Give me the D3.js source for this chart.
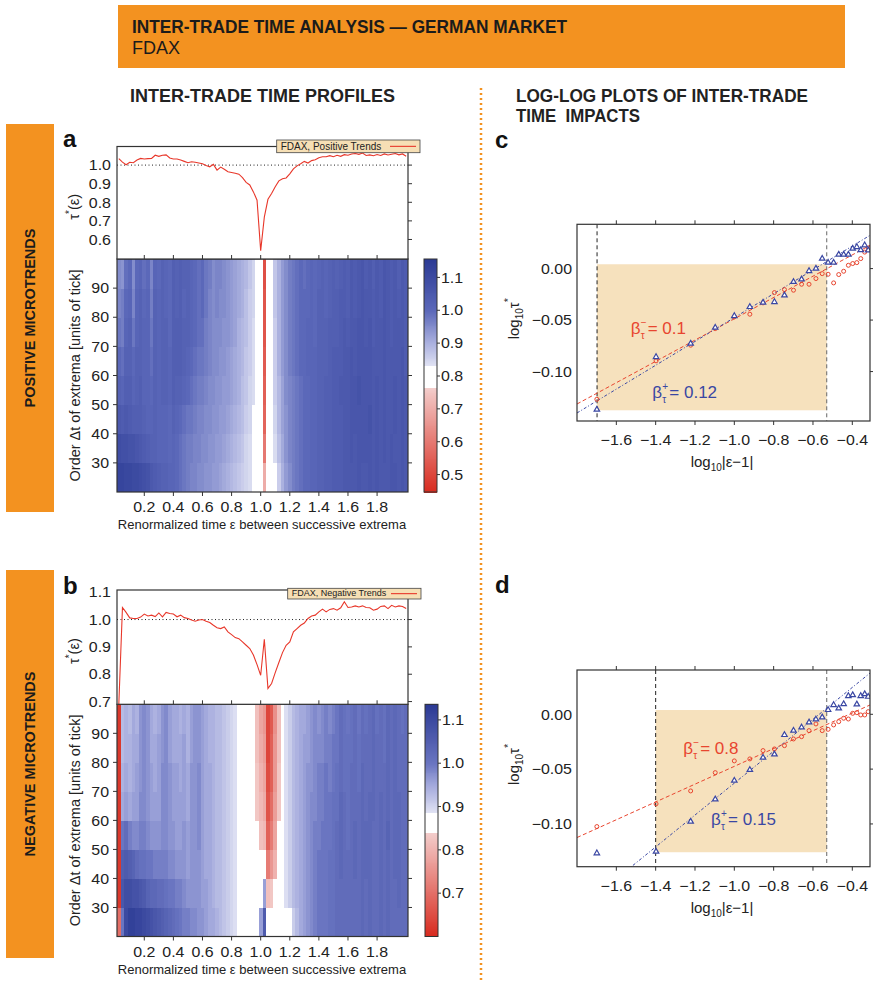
<!DOCTYPE html>
<html>
<head>
<meta charset="utf-8">
<script src="https://cdnjs.cloudflare.com/ajax/libs/d3/7.8.5/d3.min.js"></script>
<style>
body{margin:0;background:#fff}
svg{display:block}
text{font-family:"Liberation Sans",Arial,Helvetica,sans-serif}
</style>
</head>
<body>
<div id="fig"></div>
<script>
var W = 873, H = 982,
orange = "#f39220",
ink = "#222222",
narrow = '"Liberation Sans Narrow","Arial Narrow","Liberation Sans",sans-serif';

// renormalized time grid (bin centres) and order bands
var epsGrid = d3.range(1, 81).map(function(k){ return +(k * 0.025).toFixed(4); });
var dtEdges = [20, 30, 40, 50, 60, 70, 80, 90, 100];

// tau*(eps) profiles, one value per eps bin
var tauPos = [1.035,1.016,1.002,1.015,1.013,1.027,1.036,1.033,1.035,1.036,
1.053,1.047,1.053,1.055,1.038,1.033,1.033,1.027,1.020,1.013,
1.018,1.015,1.011,1.007,0.998,0.991,1.004,0.973,0.989,0.978,
0.964,0.960,0.956,0.951,0.933,0.907,0.893,0.856,0.811,0.540,
0.720,0.816,0.847,0.884,0.915,0.927,0.931,0.953,0.980,0.996,
1.007,1.020,1.011,1.024,1.029,1.040,1.045,1.045,1.051,1.045,
1.053,1.047,1.056,1.053,1.060,1.062,1.058,1.065,1.052,1.055,
1.050,1.057,1.052,1.060,1.054,1.058,1.062,1.055,1.060,1.048];

var tauNeg = [0.690,1.044,1.026,1.006,1.004,1.004,1.009,1.020,1.013,1.016,
1.011,1.024,1.010,1.026,1.022,1.020,1.010,1.016,1.007,1.004,
0.998,0.994,0.998,1.000,0.994,0.989,0.979,0.970,0.967,0.973,
0.955,0.945,0.934,0.930,0.918,0.906,0.894,0.870,0.835,0.796,
0.928,0.748,0.766,0.806,0.843,0.879,0.906,0.918,0.955,0.967,
0.979,0.987,1.004,1.013,1.016,1.028,1.038,1.028,1.037,1.040,
1.034,1.043,1.065,1.044,1.046,1.050,1.046,1.050,1.044,1.043,
1.034,1.038,1.048,1.050,1.040,1.052,1.046,1.050,1.048,1.040];

// heat maps: one row per order band (20-30 first, 90-100 last), 80 eps bins each
var heatPos = [
[1.12,1.12,1.11,1.11, 1.10,1.10,1.09,1.08, 1.07,1.05,1.04,1.03, 1.02,1.02,1.01,1.01, 1.00,.99,.98,.97, .96,.96,.95,.95, .94,.94,.93,.93, .92,.91,.90,.89, .88,.87,.86,.85, .84,.83,.81,.80,
 .70,.80,.81,.83, .86,.90,.93,.95, .97,.98,.99,1.00, 1.00,1.01,1.01,1.02, 1.02,1.03,1.03,1.04, 1.04,1.04,1.05,1.05, 1.05,1.05,1.06,1.05, 1.05,1.06,1.05,1.06, 1.05,1.05,1.05,1.06, 1.06,1.05,1.06,1.05],
[1.09,1.08,1.08,1.07, 1.07,1.06,1.05,1.04, 1.03,1.02,1.02,1.01, 1.01,1.01,1.00,1.01, 1.00,.99,.98,.97, .97,.96,.96,.95, .95,.94,.94,.93, .93,.92,.91,.90, .89,.88,.87,.85, .84,.83,.81,.80,
 .60,.80,.82,.84, .88,.91,.94,.96, .97,.98,.99,1.00, 1.00,1.01,1.01,1.02, 1.02,1.03,1.03,1.04, 1.04,1.04,1.05,1.05, 1.06,1.05,1.06,1.06, 1.06,1.06,1.05,1.06, 1.05,1.06,1.05,1.06, 1.05,1.05,1.06,1.05],
[1.05,1.04,1.05,1.04, 1.03,1.03,1.03,1.02, 1.01,1.01,1.02,1.01, 1.01,1.01,1.00,1.02, 1.01,1.00,.99,.98, .98,.97,.96,.96, .95,.95,.94,.94, .93,.93,.92,.91, .90,.89,.88,.86, .85,.83,.81,.80,
 .56,.80,.82,.85, .89,.92,.94,.96, .97,.98,.99,1.00, 1.00,1.01,1.01,1.02, 1.02,1.03,1.03,1.04, 1.04,1.04,1.05,1.05, 1.06,1.06,1.06,1.06, 1.06,1.07,1.05,1.06, 1.05,1.06,1.05,1.05, 1.06,1.05,1.06,1.05],
[1.02,1.01,1.03,1.03, 1.01,1.02,1.03,1.01, 1.01,1.00,1.02,1.01, 1.02,1.02,1.01,1.03, 1.02,1.02,1.01,1.00, .99,.98,.97,.97, .96,.95,.95,.94, .94,.93,.93,.92, .91,.90,.88,.87, .85,.84,.82,.80,
 .55,.80,.83,.86, .89,.92,.95,.96, .97,.98,.99,1.00, 1.00,1.01,1.01,1.02, 1.02,1.03,1.03,1.04, 1.04,1.05,1.05,1.05, 1.06,1.06,1.07,1.06, 1.06,1.06,1.05,1.06, 1.05,1.06,1.05,1.05, 1.06,1.05,1.06,1.05],
[1.00,.99,1.02,1.02, 1.00,1.02,1.02,1.01, 1.01,.99,1.02,1.01, 1.02,1.02,1.01,1.03, 1.03,1.03,1.02,1.01, 1.00,.99,.98,.98, .97,.96,.95,.95, .94,.94,.93,.92, .91,.90,.89,.87, .86,.84,.82,.80,
 .54,.80,.83,.86, .90,.93,.95,.97, .98,.99,1.00,1.00, 1.01,1.01,1.01,1.02, 1.02,1.02,1.03,1.04, 1.04,1.04,1.05,1.05, 1.06,1.05,1.06,1.06, 1.06,1.06,1.05,1.05, 1.05,1.06,1.05,1.05, 1.05,1.05,1.06,1.04],
[.98,.97,1.01,1.02, .98,1.01,1.02,1.01, 1.01,.98,1.02,1.01, 1.02,1.02,1.00,1.03, 1.03,1.03,1.02,1.02, 1.01,1.00,.99,.99, .97,.96,.95,.95, .95,.94,.94,.93, .92,.90,.89,.88, .86,.84,.82,.80,
 .53,.80,.83,.86, .90,.93,.95,.97, .98,.99,1.00,1.00, 1.01,1.01,1.00,1.02, 1.02,1.02,1.03,1.03, 1.03,1.04,1.05,1.04, 1.05,1.05,1.06,1.06, 1.05,1.06,1.04,1.05, 1.05,1.06,1.05,1.04, 1.05,1.05,1.05,1.04],
[.96,.97,1.00,1.01, .96,1.01,1.02,1.00, 1.01,.97,1.02,1.01, 1.02,1.01,1.00,1.03, 1.02,1.03,1.01,1.02, 1.01,1.00,.99,1.00, .98,.96,.95,.96, .95,.95,.94,.93, .92,.91,.90,.88, .86,.85,.82,.80,
 .53,.80,.83,.87, .90,.93,.95,.97, .98,.99,1.00,1.00, 1.00,1.01,1.00,1.02, 1.02,1.01,1.02,1.03, 1.03,1.04,1.04,1.03, 1.05,1.04,1.05,1.06, 1.05,1.05,1.04,1.05, 1.04,1.06,1.05,1.04, 1.05,1.04,1.05,1.04],
[.95,.94,.99,1.00, .95,1.00,1.01,.99, 1.00,.96,1.01,1.00, 1.02,1.01,1.00,1.03, 1.02,1.03,1.02,1.02, 1.01,1.00,.99,1.00, .98,.97,.95,.96, .96,.95,.94,.93, .92,.91,.90,.89, .87,.85,.83,.81,
 .52,.80,.83,.87, .90,.93,.95,.97, .98,.99,1.00,.99, 1.00,1.01,1.00,1.01, 1.02,1.01,1.02,1.03, 1.02,1.03,1.04,1.03, 1.05,1.04,1.05,1.06, 1.04,1.05,1.03,1.05, 1.04,1.06,1.05,1.04, 1.05,1.03,1.05,1.04]
];

var heatNeg = [
[.70,1.00,1.10,1.12, 1.12,1.11,1.11,1.10, 1.09,1.08,1.07,1.06, 1.05,1.04,1.03,1.02, 1.01,1.00,.99,.99, .98,.98,.97,.97, .96,.95,.95,.94, .93,.92,.91,.90, .89,.88,.88,.87, .87,.87,.87,.96,
 1.06,.87,.88,.88, .88,.87,.88,.88, .91,.93,.95,.96, .97,.98,.99,1.00, 1.00,1.00,1.01,1.01, 1.02,1.02,1.02,1.02, 1.02,1.02,1.02,1.03, 1.02,1.03,1.02,1.02, 1.03,1.02,1.03,1.02, 1.02,1.02,1.02,1.02],
[.62,1.07,1.09,1.09, 1.08,1.08,1.07,1.06, 1.04,1.03,1.03,1.02, 1.02,1.01,1.00,1.00, .99,.99,.98,.97, .97,.97,.97,.96, .96,.95,.94,.93, .93,.92,.91,.90, .89,.88,.88,.87, .87,.87,.87,.87,
 .96,.82,.83,.85, .87,.88,.89,.91, .93,.94,.95,.96, .97,.98,.99,1.00, 1.00,1.00,1.01,1.01, 1.02,1.02,1.02,1.02, 1.02,1.02,1.02,1.03, 1.02,1.03,1.02,1.02, 1.03,1.02,1.03,1.02, 1.02,1.03,1.02,1.02],
[.62,1.05,1.06,1.05, 1.04,1.02,1.01,1.01, 1.00,1.00,.99,.99, .99,.99,.98,.98, .97,.97,.97,.96, .97,.97,.97,.96, .95,.95,.94,.93, .93,.92,.91,.90, .89,.88,.88,.87, .87,.87,.86,.84,
 .85,.72,.76,.80, .85,.87,.89,.91, .93,.94,.95,.96, .97,.98,.99,1.00, 1.00,1.00,1.01,1.01, 1.02,1.03,1.02,1.02, 1.02,1.03,1.02,1.03, 1.03,1.03,1.02,1.02, 1.03,1.02,1.03,1.02, 1.03,1.03,1.02,1.02],
[.62,1.00,1.02,.99, .98,.98,.99,.99, .98,.97,.97,.97, .98,.98,.97,.97, .96,.96,.97,.96, .97,.97,.98,.96, .95,.95,.94,.93, .93,.92,.91,.90, .89,.88,.88,.87, .87,.86,.84,.82,
 .81,.68,.72,.78, .84,.87,.89,.91, .93,.94,.95,.96, .97,.98,.99,.99, 1.00,1.00,1.00,1.01, 1.02,1.03,1.02,1.01, 1.02,1.03,1.02,1.03, 1.03,1.03,1.02,1.02, 1.03,1.02,1.04,1.02, 1.03,1.03,1.02,1.02],
[.62,.95,.96,.95, .96,.96,.98,.98, .97,.96,.96,.96, .98,.98,.97,.96, .96,.96,.96,.95, .97,.97,.98,.96, .95,.95,.94,.93, .93,.92,.91,.90, .89,.88,.88,.87, .87,.86,.83,.81,
 .79,.66,.70,.77, .83,.87,.89,.91, .93,.94,.95,.96, .97,.98,.98,.99, .99,1.00,1.00,1.01, 1.01,1.03,1.02,1.01, 1.02,1.02,1.02,1.03, 1.02,1.03,1.03,1.02, 1.03,1.02,1.03,1.02, 1.03,1.03,1.02,1.02],
[.62,.94,.95,.94, .95,.96,.97,.98, .97,.96,.95,.96, .98,.98,.97,.96, .96,.95,.96,.95, .97,.97,.98,.96, .95,.95,.94,.93, .93,.92,.91,.90, .89,.88,.88,.87, .87,.86,.83,.80,
 .78,.65,.68,.76, .83,.87,.89,.91, .93,.94,.95,.96, .97,.97,.98,.99, .99,1.00,.99,1.00, 1.01,1.02,1.01,1.01, 1.02,1.02,1.01,1.03, 1.02,1.02,1.03,1.02, 1.02,1.02,1.03,1.02, 1.03,1.02,1.02,1.02],
[.62,.93,.94,.94, .95,.95,.97,.98, .97,.95,.95,.96, .97,.98,.96,.95, .95,.95,.96,.94, .96,.97,.97,.96, .95,.94,.94,.93, .93,.92,.91,.90, .89,.88,.88,.87, .87,.86,.82,.79,
 .77,.64,.68,.76, .82,.87,.89,.91, .93,.94,.95,.96, .96,.97,.98,.98, .98,.99,.99,1.00, 1.00,1.02,1.01,1.01, 1.01,1.02,1.01,1.02, 1.02,1.02,1.03,1.02, 1.02,1.01,1.03,1.02, 1.03,1.02,1.02,1.02],
[.62,.93,.94,.93, .95,.94,.97,.98, .97,.95,.94,.95, .97,.98,.96,.95, .95,.94,.95,.94, .96,.97,.97,.96, .95,.94,.94,.93, .93,.92,.91,.90, .89,.88,.88,.87, .87,.86,.82,.78,
 .76,.64,.67,.75, .82,.87,.89,.91, .93,.94,.95,.95, .96,.97,.98,.97, .98,.99,.98,.99, 1.00,1.02,1.01,1.00, 1.01,1.02,1.00,1.02, 1.01,1.02,1.03,1.01, 1.02,1.01,1.03,1.02, 1.03,1.02,1.01,1.02]
];

// log-log panels: x = log10|eps-1| for |eps-1| = 0.02 ... 0.48
var logAbsEps = [-1.699,-1.398,-1.222,-1.097,-1.000,-0.921,-0.854,-0.796,-0.745,-0.699,
-0.658,-0.620,-0.585,-0.553,-0.523,-0.495,-0.469,-0.444,-0.420,-0.398,
-0.377,-0.357,-0.337,-0.319];
var cRed = [-0.1269,-0.0896,-0.0744,-0.0583,-0.0469,-0.0443,-0.0333,-0.0233,-0.0204,-0.0210,
-0.0152,-0.0152,-0.0097,-0.0049,-0.0055,-0.0139,-0.0058,-0.0026,0.0032,0.0049,
0.0058,0.0097,0.0160,0.0200];
var cBlue = [-0.1369,-0.0858,-0.0728,-0.0573,-0.0460,-0.0372,-0.0330,-0.0324,-0.0259,-0.0129,
-0.0104,-0.0023,0.0000,0.0097,0.0058,0.0058,0.0136,0.0136,0.0136,0.0194,
0.0210,0.0180,0.0227,0.0178];
var dRed = [-0.1024,-0.0817,-0.0699,-0.0532,-0.0425,-0.0407,-0.0331,-0.0316,-0.0286,-0.0225,
-0.0204,-0.0149,-0.0088,-0.0149,-0.0137,-0.0097,-0.0067,-0.0036,-0.0043,0.0009,
0.0015,-0.0006,-0.0006,0.0024];
var dBlue = [-0.1267,-0.1252,-0.0978,-0.0775,-0.0605,-0.0507,-0.0395,-0.0365,-0.0188,-0.0149,
-0.0119,-0.0073,-0.0046,-0.0027,0.0040,0.0085,0.0055,0.0094,0.0167,0.0176,
0.0091,0.0167,0.0185,0.0161];
// fitted power laws (end points)
var cRedFit = [[-1.8,-0.1315],[-0.31,0.0226]];
var cBlueFit = [[-1.8,-0.1402],[-0.31,0.0323]];
var dRedFit = [[-1.8,-0.1124],[-0.31,0.0085]];
var dBlueFit = [[-1.8,-0.1792],[-0.31,0.0376]];
var logTicksX = [-1.6,-1.4,-1.2,-1.0,-0.8,-0.6,-0.4];
var logTicksY = [0,-0.05,-0.10];

var svg = d3.select("#fig").append("svg").attr("width", W).attr("height", H);
svg.append("rect").attr("width", W).attr("height", H).attr("fill", "#fff");
var defs = svg.append("defs");

function txt(parent, x, y, s, o){
	o = o || {};
	var g = parent.append("g")
		.attr("transform", "translate(" + x + "," + y + ")" + (o.rot ? " rotate(" + o.rot + ")" : "") + " scale(" + (o.sx || 1) + ",1)");
	var t = g.append("text")
		.attr("text-anchor", o.anchor || "start")
		.attr("font-size", o.size || 14)
		.attr("font-weight", o.weight || "normal")
		.attr("fill", o.fill || ink);
	if(o.dy) t.attr("dy", o.dy);
	if(o.family) t.attr("font-family", o.family);
	if(o.len) t.attr("textLength", o.len).attr("lengthAdjust", "spacingAndGlyphs");
	if(s !== null) t.text(s);
	return t;
}

// header
svg.append("rect").attr("x", 118).attr("y", 5).attr("width", 727).attr("height", 63).attr("fill", orange);
txt(svg, 132, 33, "INTER-TRADE TIME ANALYSIS \u2014 GERMAN MARKET", {size:18, weight:"bold", family:narrow, len:435, fill:"#1b1b1b"});
txt(svg, 132, 54, "FDAX", {size:18, family:narrow, fill:"#1b1b1b"});

txt(svg, 130, 102, "INTER-TRADE TIME PROFILES", {size:18, weight:"bold", family:narrow, len:265});
txt(svg, 516, 102, "LOG-LOG PLOTS OF INTER-TRADE", {size:18, weight:"bold", family:narrow, len:292});
txt(svg, 516, 122, "TIME\u00a0 IMPACTS", {size:18, weight:"bold", family:narrow, len:124});

svg.append("line").attr("x1", 481).attr("x2", 481).attr("y1", 88).attr("y2", 980)
	.attr("stroke", orange).attr("stroke-width", 2.5).attr("stroke-dasharray", "2,3");

// side bars
[[124, 512, "POSITIVE MICROTRENDS"], [570, 958, "NEGATIVE MICROTRENDS"]].forEach(function(b){
	svg.append("rect").attr("x", 6).attr("y", b[0]).attr("width", 48).attr("height", b[1] - b[0]).attr("fill", orange);
	txt(svg, 35, (b[0] + b[1]) / 2, b[2], {rot:-90, anchor:"middle", size:14.5, weight:"bold", fill:"#1b1b1b"});
});

// panel letters
[["a", 63, 147], ["b", 63, 594], ["c", 495, 148], ["d", 495, 593]].forEach(function(l){
	txt(svg, l[1], l[2], l[0], {size:24, weight:"bold", fill:"#111"});
});

var colorPos = d3.scaleLinear()
	.domain([0.447, 0.765, 0.766, 0.83, 0.831, 0.9, 1.0, 1.156])
	.range(["#d82a1e", "#f3cdcb", "#ffffff", "#ffffff", "#e0e2f3", "#abb1df", "#5b68b9", "#2b3a94"])
	.clamp(true);
var colorNeg = d3.scaleLinear()
	.domain([0.6, 0.839, 0.84, 0.885, 0.886, 0.95, 1.0, 1.136])
	.range(["#d82a1e", "#f3cdcb", "#ffffff", "#ffffff", "#e0e2f3", "#a3a9dc", "#6a75c1", "#2b3a94"])
	.clamp(true);

var tickSize = 14.5, tickSx = 1.1;

function drawProfile(p){
	var x = d3.scaleLinear().domain([0.0125, 2.0125]).range([117, 408]);
	var yl = d3.scaleLinear().domain(p.tauDomain).range([p.lineBottom, p.lineTop]);
	var yh = d3.scaleLinear().domain([20, 100]).range([p.heatBottom, p.lineBottom]);
	var g = svg.append("g");
	var cid = "clip" + p.id;
	defs.append("clipPath").attr("id", cid).append("rect")
		.attr("x", 117).attr("y", p.lineTop).attr("width", 291).attr("height", p.heatBottom - p.lineTop);

	// heat map
	var hm = g.append("g").attr("clip-path", "url(#" + cid + ")").attr("shape-rendering", "crispEdges");
	p.heat.forEach(function(row, i){
		hm.selectAll(null).data(row).join("rect")
			.attr("x", function(v, j){ return x(epsGrid[j] - 0.0125); })
			.attr("width", x(0.025) - x(0) + 0.6)
			.attr("y", yh(dtEdges[i + 1]))
			.attr("height", yh(dtEdges[i]) - yh(dtEdges[i + 1]) + 0.6)
			.attr("fill", function(v){ return p.color(v); });
	});
	g.append("rect").attr("x", 117).attr("y", p.lineBottom).attr("width", 291).attr("height", p.heatBottom - p.lineBottom)
		.attr("fill", "none").attr("stroke", "#333").attr("stroke-width", 1.2);

	// line plot
	g.append("rect").attr("x", 117).attr("y", p.lineTop).attr("width", 291).attr("height", p.lineBottom - p.lineTop).attr("fill", "#fff");
	g.append("line").attr("x1", 117).attr("x2", 408).attr("y1", yl(1)).attr("y2", yl(1))
		.attr("stroke", "#222").attr("stroke-width", 1).attr("stroke-dasharray", "1,2.5");
	var line = d3.line().x(function(d, i){ return x(epsGrid[i]); }).y(function(d){ return yl(d); });
	g.append("path").datum(p.tau).attr("clip-path", "url(#" + cid + ")")
		.attr("d", line).attr("fill", "none").attr("stroke", "#e8372a").attr("stroke-width", 1.1);
	g.append("rect").attr("x", 117).attr("y", p.lineTop).attr("width", 291).attr("height", p.lineBottom - p.lineTop)
		.attr("fill", "none").attr("stroke", "#333").attr("stroke-width", 1.2);

	var xt = [0.2, 0.4, 0.6, 0.8, 1.0, 1.2, 1.4, 1.6, 1.8];
	xt.forEach(function(t){
		g.append("line").attr("x1", x(t)).attr("x2", x(t)).attr("y1", p.lineBottom).attr("y2", p.lineBottom - 4).attr("stroke", "#333");
		g.append("line").attr("x1", x(t)).attr("x2", x(t)).attr("y1", p.heatBottom).attr("y2", p.heatBottom + 4).attr("stroke", "#333");
		txt(g, x(t), p.heatBottom + 20, d3.format(".1f")(t), {anchor:"middle", size:tickSize, sx:tickSx});
	});
	p.tauTicks.forEach(function(t){
		g.append("line").attr("x1", 408).attr("x2", 412).attr("y1", yl(t)).attr("y2", yl(t)).attr("stroke", "#333");
		txt(g, 111, yl(t), d3.format(".1f")(t), {anchor:"end", dy:"0.36em", size:tickSize, sx:tickSx});
	});
	[30, 40, 50, 60, 70, 80, 90].forEach(function(t){
		g.append("line").attr("x1", 113).attr("x2", 117).attr("y1", yh(t)).attr("y2", yh(t)).attr("stroke", "#333");
		g.append("line").attr("x1", 408).attr("x2", 412).attr("y1", yh(t)).attr("y2", yh(t)).attr("stroke", "#333");
		txt(g, 109, yh(t), String(t), {anchor:"end", dy:"0.36em", size:tickSize, sx:tickSx});
	});
	txt(g, 262, p.heatBottom + 37, "Renormalized time \u03b5 between successive extrema", {anchor:"middle", size:13});
	txt(g, 80, (p.lineBottom + p.heatBottom) / 2, "Order \u0394t of extrema [units of tick]", {anchor:"middle", rot:-90, size:14.5});

	var tl = txt(g, 79, (p.lineTop + p.lineBottom) / 2 + 4, null, {anchor:"middle", rot:-90, size:14.5});
	tl.append("tspan").text("\u03c4");
	tl.append("tspan").attr("dy", -6).attr("font-size", 10).text("*");
	tl.append("tspan").attr("dy", 6).text("(\u03b5)");

	// legend
	var lb = p.legBox;
	g.append("rect").attr("x", lb[0]).attr("y", lb[1]).attr("width", lb[2]).attr("height", lb[3])
		.attr("fill", "#f6dfb5").attr("stroke", "#444").attr("stroke-width", 0.8);
	txt(g, lb[0] + 4, lb[1] + lb[3] - 2.8, p.legend, {size:p.legSize, fill:"#222"});
	g.append("line").attr("x1", lb[0] + lb[2] - 30).attr("x2", lb[0] + lb[2] - 4)
		.attr("y1", lb[1] + lb[3] / 2).attr("y2", lb[1] + lb[3] / 2).attr("stroke", "#e8372a").attr("stroke-width", 1.1);

	// colour bar
	var yc = d3.scaleLinear().domain(p.cbDomain).range([p.heatBottom, p.lineBottom]);
	var steps = d3.range(0, 240);
	var dv = (p.cbDomain[1] - p.cbDomain[0]) / 240;
	g.append("g").attr("shape-rendering", "crispEdges").selectAll("rect").data(steps).join("rect")
		.attr("x", p.cbX).attr("width", 13)
		.attr("y", function(k){ return yc(p.cbDomain[0] + (k + 1) * dv); })
		.attr("height", function(k){ return yc(p.cbDomain[0] + k * dv) - yc(p.cbDomain[0] + (k + 1) * dv) + 0.5; })
		.attr("fill", function(k){ return p.color(p.cbDomain[0] + (k + 0.5) * dv); });
	g.append("rect").attr("x", p.cbX).attr("y", p.lineBottom).attr("width", 13).attr("height", p.heatBottom - p.lineBottom)
		.attr("fill", "none").attr("stroke", "#333").attr("stroke-width", 1);
	p.cbTicks.forEach(function(t){
		g.append("line").attr("x1", p.cbX + 13).attr("x2", p.cbX + 16).attr("y1", yc(t)).attr("y2", yc(t)).attr("stroke", "#333");
		txt(g, p.cbX + 17, yc(t), d3.format(".1f")(t), {dy:"0.36em", size:tickSize, sx:tickSx});
	});
}

drawProfile({id:"a", lineTop:146.5, lineBottom:259, heatBottom:492, tau:tauPos, tauDomain:[0.495, 1.10],
	tauTicks:[0.6, 0.7, 0.8, 0.9, 1.0], heat:heatPos, color:colorPos, cbDomain:[0.447, 1.156],
	cbTicks:[0.5, 0.6, 0.7, 0.8, 0.9, 1.0, 1.1], cbX:424, legend:"FDAX, Positive Trends",
	legBox:[276.7, 140, 143.3, 12.7], legSize:10});
drawProfile({id:"b", lineTop:590, lineBottom:704.3, heatBottom:936.5, tau:tauNeg, tauDomain:[0.69, 1.108],
	tauTicks:[0.7, 0.8, 0.9, 1.0, 1.1], heat:heatNeg, color:colorNeg, cbDomain:[0.6, 1.136],
	cbTicks:[0.7, 0.8, 0.9, 1.0, 1.1], cbX:425, legend:"FDAX, Negative Trends",
	legBox:[287.7, 588.3, 133.3, 10.7], legSize:9});

var redC = "#e8452f", blueC = "#3a47a3";

// beta label: main glyph, stacked super/subscript, value
function betaLabel(g, x, y, sign, val, col){
	txt(g, x, y, "\u03b2", {size:17, fill:col});
	txt(g, x + 10, y - 8, sign, {size:10, fill:col});
	txt(g, x + 10, y + 5, "\u03c4", {size:10, fill:col});
	txt(g, x + 17, y, "= " + val, {size:17, fill:col});
}

function drawLogLog(p){
	var x = d3.scaleLinear().domain([-1.8, -0.31]).range([577, 870]);
	var y = d3.scaleLinear().domain(p.yDomain).range([p.yBottom, p.yTop]);
	var g = svg.append("g");
	var cid = "clip" + p.id;
	defs.append("clipPath").attr("id", cid).append("rect")
		.attr("x", 577).attr("y", p.yTop).attr("width", 293).attr("height", p.yBottom - p.yTop);
	var pg = g.append("g").attr("clip-path", "url(#" + cid + ")");
	pg.append("rect").attr("x", x(p.shade[0])).attr("width", x(p.shade[1]) - x(p.shade[0]))
		.attr("y", y(p.shade[3])).attr("height", y(p.shade[2]) - y(p.shade[3])).attr("fill", "#f6e1bd");
	p.vlines.forEach(function(v, i){
		pg.append("line").attr("x1", x(v)).attr("x2", x(v)).attr("y1", p.yTop).attr("y2", p.yBottom)
			.attr("stroke", i ? "#666" : "#222").attr("stroke-width", 1).attr("stroke-dasharray", "4,3");
	});
	var ln = d3.line().x(function(d){ return x(d[0]); }).y(function(d){ return y(d[1]); });
	pg.append("path").datum(p.redFit).attr("d", ln).attr("fill", "none").attr("stroke", redC)
		.attr("stroke-width", 1).attr("stroke-dasharray", "4,2.5");
	pg.append("path").datum(p.blueFit).attr("d", ln).attr("fill", "none").attr("stroke", blueC)
		.attr("stroke-width", 1).attr("stroke-dasharray", "3,2,1,2");
	pg.selectAll(".rc").data(p.red).join("circle")
		.attr("cx", function(d, i){ return x(logAbsEps[i]); }).attr("cy", function(d){ return y(d); })
		.attr("r", 2).attr("fill", "none").attr("stroke", redC).attr("stroke-width", 1);
	var tri = d3.symbol().type(d3.symbolTriangle).size(13);
	pg.selectAll(".bt").data(p.blue).join("path")
		.attr("transform", function(d, i){ return "translate(" + x(logAbsEps[i]) + "," + y(d) + ")"; })
		.attr("d", tri).attr("fill", "#fff").attr("stroke", blueC).attr("stroke-width", 1.2);
	g.append("rect").attr("x", 577).attr("y", p.yTop).attr("width", 293).attr("height", p.yBottom - p.yTop)
		.attr("fill", "none").attr("stroke", "#333").attr("stroke-width", 1.2);

	logTicksX.forEach(function(t){
		g.append("line").attr("x1", x(t)).attr("x2", x(t)).attr("y1", p.yTop).attr("y2", p.yTop - 4).attr("stroke", "#333");
		g.append("line").attr("x1", x(t)).attr("x2", x(t)).attr("y1", p.yBottom).attr("y2", p.yBottom + 4).attr("stroke", "#333");
		txt(g, x(t), p.yBottom + 24, d3.format(".1f")(t), {anchor:"middle", size:tickSize, sx:tickSx});
	});
	logTicksY.forEach(function(t){
		g.append("line").attr("x1", 870).attr("x2", 874).attr("y1", y(t)).attr("y2", y(t)).attr("stroke", "#333");
		txt(g, 572, y(t), d3.format(".2f")(t), {anchor:"end", dy:"0.36em", size:tickSize, sx:tickSx});
	});
	var xl = txt(g, 722, p.yBottom + 46, null, {anchor:"middle", size:15});
	xl.append("tspan").text("log");
	xl.append("tspan").attr("dy", 4).attr("font-size", 10).text("10");
	xl.append("tspan").attr("dy", -4).text("|\u03b5\u22121|");
	var yl = txt(g, 519, (p.yTop + p.yBottom) / 2 - 4, null, {anchor:"middle", rot:-90, size:15});
	yl.append("tspan").text("log");
	yl.append("tspan").attr("dy", 4).attr("font-size", 10).text("10");
	yl.append("tspan").attr("dy", -4).text("\u03c4");
	yl.append("tspan").attr("dy", -7).attr("font-size", 11).text("*");

	betaLabel(g, x(p.redLab[0]), y(p.redLab[1]), "\u2212", p.redLab[2], redC);
	betaLabel(g, x(p.blueLab[0]), y(p.blueLab[1]), "+", p.blueLab[2], blueC);
}

drawLogLog({id:"c", yTop:224.3, yBottom:421, yDomain:[-0.148, 0.043], red:cRed, blue:cBlue,
	redFit:cRedFit, blueFit:cBlueFit, shade:[-1.698, -0.53, -0.1376, 0.0042], vlines:[-1.698, -0.53],
	redLab:[-1.527, -0.0638, "0.1"], blueLab:[-1.417, -0.1256, "0.12"]});
drawLogLog({id:"d", yTop:670, yBottom:866.7, yDomain:[-0.139, 0.0404], red:dRed, blue:dBlue,
	redFit:dRedFit, blueFit:dBlueFit, shade:[-1.4, -0.53, -0.1258, 0.0039], vlines:[-1.4, -0.53],
	redLab:[-1.26, -0.0365, "0.8"], blueLab:[-1.118, -0.101, "0.15"]});
</script>
</body>
</html>
